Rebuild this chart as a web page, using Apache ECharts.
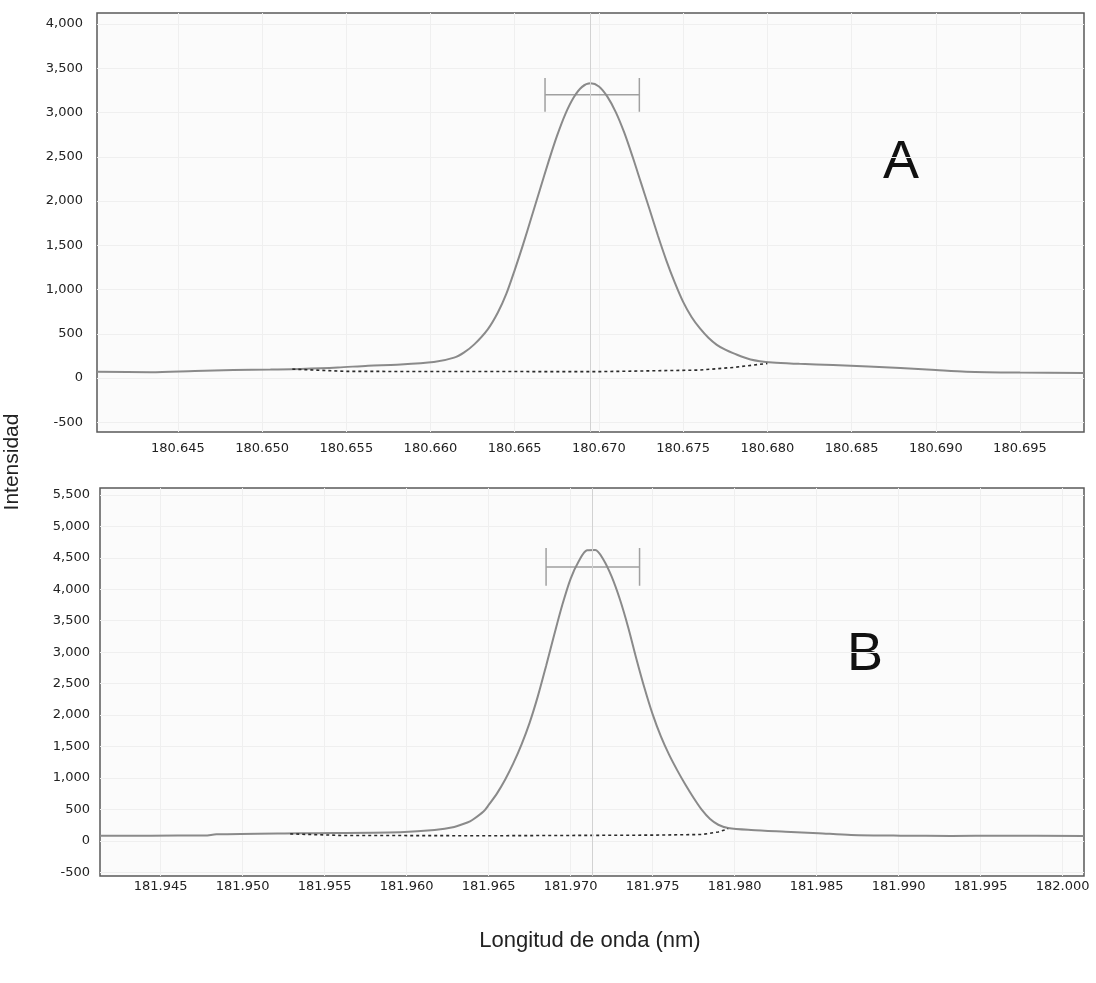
<!DOCTYPE html>
<html>
<head>
<meta charset="utf-8">
<title>Intensidad - Longitud de onda</title>
<script src="https://cdn.jsdelivr.net/npm/echarts@6/dist/echarts.min.js"></script>
<style>
    html, body { margin: 0; padding: 0; background: #fff; }
    #chart { width: 1096px; height: 983px; }
</style>
</head>
<body>
<div id="chart"></div>
<script>
    // A: 180.67 nm
    var waveA = [180.6402, 180.6434, 180.6460, 180.6483, 180.6505, 180.6523, 180.6545, 180.6563, 180.6580, 180.6602,
        180.6614, 180.6620, 180.6626, 180.6634, 180.6640, 180.6645, 180.6650, 180.6655, 180.6660, 180.6665,
        180.6670, 180.6675, 180.6680, 180.6685, 180.6690, 180.6695, 180.6700, 180.6705, 180.6710, 180.6715,
        180.6720, 180.6725, 180.6730, 180.6735, 180.6740, 180.6745, 180.6750, 180.6755, 180.6760, 180.6765,
        180.6770, 180.6775, 180.6780, 180.6790, 180.6803, 180.6819, 180.6839, 180.6860, 180.6879, 180.6900,
        180.6918, 180.6950, 180.6988];
    var intA = [72, 66, 80, 90, 96, 102, 118, 140, 150, 180,
        230, 290, 380, 550, 740, 950, 1220, 1510, 1820, 2130,
        2440, 2730, 2980, 3170, 3290, 3330, 3295, 3180, 3005, 2775,
        2500, 2205, 1910, 1610, 1330, 1080, 860, 690, 560, 455,
        375, 320, 278, 210, 175, 160, 147, 130, 113, 90,
        72, 62, 57];
    var baseWaveA = [180.6518, 180.6550, 180.6700, 180.6760, 180.6780, 180.6800];
    var baseIntA = [100, 75, 72, 90, 120, 165];
    var windowA = [180.6668, 180.6724];
    var windowYA = 3200;
    var windowTickA = 190;
    var peakA = 180.6695;

    // B: 181.97 nm
    var waveB = [181.9413, 181.9444, 181.9477, 181.9484, 181.9535, 181.9596, 181.9617, 181.9629, 181.9637, 181.9640,
        181.9647, 181.9650, 181.9655, 181.9660, 181.9665, 181.9670, 181.9675, 181.9680, 181.9685, 181.9690,
        181.9695, 181.9700, 181.9705, 181.9710, 181.9715, 181.9720, 181.9725, 181.9730, 181.9735, 181.9740,
        181.9745, 181.9750, 181.9755, 181.9760, 181.9765, 181.9770, 181.9775, 181.9780, 181.9785, 181.9790,
        181.9796, 181.9810, 181.9831, 181.9851, 181.9871, 181.9901, 181.9932, 181.9962, 182.0013];
    var intB = [82, 82, 84, 103, 120, 137, 170, 220, 290, 330,
        470, 570, 750, 970, 1230, 1530, 1880, 2300, 2780, 3280,
        3760, 4170, 4450, 4620, 4625, 4470, 4200, 3840, 3400, 2900,
        2430, 2010, 1660, 1370, 1120, 890, 680, 490, 345, 255,
        205, 173, 145, 120, 93, 82, 78, 80, 78];
    var baseWaveB = [181.9529, 181.9560, 181.9650, 181.9750, 181.9780, 181.9790, 181.9796];
    var baseIntB = [110, 85, 80, 90, 100, 140, 190];
    var windowB = [181.9685, 181.9742];
    var windowYB = 4354;
    var windowTickB = 300;
    var peakB = 181.9713;

    var ticksXA = [180.645, 180.650, 180.655, 180.660, 180.665, 180.670, 180.675, 180.680, 180.685, 180.690, 180.695];
    var ticksXB = [181.945, 181.950, 181.955, 181.960, 181.965, 181.970, 181.975, 181.980, 181.985, 181.990, 181.995, 182.000];
    var ticksYA = [-500, 0, 500, 1000, 1500, 2000, 2500, 3000, 3500, 4000];
    var ticksYB = [-500, 0, 500, 1000, 1500, 2000, 2500, 3000, 3500, 4000, 4500, 5000, 5500];

    function zip(xs, ys) {
        var out = [];
        for (var i = 0; i < xs.length; i++) out.push([xs[i], ys[i]]);
        return out;
    }
    // H-shaped window marker
    function windowShape(w, y, h) {
        return [[w[0], y - h], [w[0], y + h], [w[0], y], [w[1], y], [w[1], y - h], [w[1], y + h]];
    }
    function fmtY(v) {
        return String(v).replace(/\B(?=(\d{3})+(?!\d))/g, ',');
    }

    var labelFont = { color: '#222', fontSize: 13, fontFamily: 'DejaVu Sans' };
    var faint = { show: true, lineStyle: { color: '#efefef', width: 1 } };

    function xAxis(idx, min, max, ticks, margin) {
        return {
            type: 'value', gridIndex: idx, min: min, max: max,
            axisLine: { show: false },
            axisTick: { show: false, customValues: ticks },
            axisLabel: Object.assign({ customValues: ticks, margin: margin, formatter: function (v) { return v.toFixed(3); } }, labelFont),
            splitLine: faint
        };
    }
    function yAxis(idx, min, max, ticks, margin) {
        return {
            type: 'value', gridIndex: idx, min: min, max: max,
            axisLine: { show: false },
            axisTick: { show: false, customValues: ticks },
            axisLabel: Object.assign({ customValues: ticks, margin: margin, formatter: fmtY }, labelFont),
            splitLine: faint
        };
    }
    function curve(idx, data, peak) {
        return {
            type: 'line', xAxisIndex: idx, yAxisIndex: idx, data: data,
            showSymbol: false, smooth: 0.3, z: 3,
            lineStyle: { color: '#8a8a8a', width: 2 },
            markLine: {
                silent: true, symbol: 'none', precision: 5, label: { show: false },
                lineStyle: { color: '#d2d2d2', width: 1, type: 'solid' },
                data: [{ xAxis: peak }]
            }
        };
    }
    function baseline(idx, data) {
        return {
            type: 'line', xAxisIndex: idx, yAxisIndex: idx, data: data,
            showSymbol: false, z: 4,
            lineStyle: { color: '#2a2a2a', width: 1.6, type: [3, 3] }
        };
    }
    function marker(idx, data) {
        return {
            type: 'line', xAxisIndex: idx, yAxisIndex: idx, data: data,
            showSymbol: false, z: 2,
            lineStyle: { color: '#a0a0a0', width: 1.5 }
        };
    }

    var chart = echarts.init(document.getElementById('chart'));
    var option = {
        animation: false,
        backgroundColor: '#ffffff',
        grid: [
            { left: 97, top: 13, right: 12, height: 419, show: true, borderColor: '#5a5a5a', borderWidth: 1.5, backgroundColor: '#fbfbfb' },
            { left: 100, top: 488, right: 12, height: 388, show: true, borderColor: '#5a5a5a', borderWidth: 1.5, backgroundColor: '#fbfbfb' }
        ],
        xAxis: [
            xAxis(0, 180.6402, 180.6988, ticksXA, 10),
            xAxis(1, 181.9413, 182.0013, ticksXB, 4)
        ],
        yAxis: [
            yAxis(0, -610, 4125, ticksYA, 14),
            yAxis(1, -560, 5610, ticksYB, 10)
        ],
        series: [
            curve(0, zip(waveA, intA), peakA),
            baseline(0, zip(baseWaveA, baseIntA)),
            marker(0, windowShape(windowA, windowYA, windowTickA)),
            curve(1, zip(waveB, intB), peakB),
            baseline(1, zip(baseWaveB, baseIntB)),
            marker(1, windowShape(windowB, windowYB, windowTickB))
        ],
        graphic: [
            { type: 'text', left: 883, top: 136, style: { text: 'A', fontSize: 54, fontFamily: 'Liberation Sans', fill: '#111' } },
            { type: 'text', left: 847, top: 628, style: { text: 'B', fontSize: 54, fontFamily: 'Liberation Sans', fill: '#111' } },
            { type: 'text', x: 12, y: 462, rotation: Math.PI / 2, style: { text: 'Intensidad', fontSize: 21, fontFamily: 'Liberation Sans', fill: '#222', align: 'center', verticalAlign: 'middle' } },
            { type: 'text', x: 590, y: 941, style: { text: 'Longitud de onda (nm)', fontSize: 22, fontFamily: 'Liberation Sans', fill: '#222', align: 'center', verticalAlign: 'middle' } }
        ]
    };
    chart.setOption(option);
</script>
</body>
</html>
